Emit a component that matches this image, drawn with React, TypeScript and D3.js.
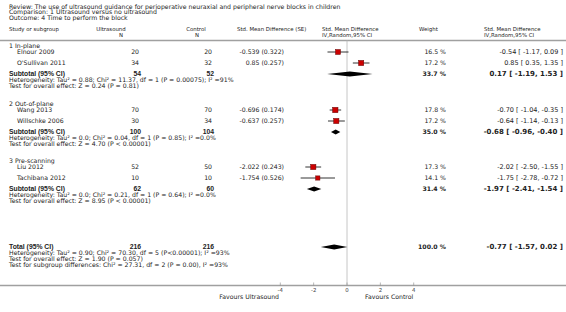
import React from "react";
import * as d3 from "d3";

// ---------- data ----------
const titleLines = [
  "Review:  The use of ultrasound guidance for perioperative neuraxial and peripheral nerve blocks in children",
  "Comparison:  1 Ultrasound versus no ultrasound",
  "Outcome:  4 Time to perform the block",
];

const groupNames = ["1 In-plane", "2 Out-of-plane", "3 Pre-scanning"];

const studyNames = ["Elnour 2009", "O'Sullivan 2011", "Wang 2013", "Willschke 2006", "Liu 2012", "Tachibana 2012"];
const studyGroup = [0, 0, 1, 1, 2, 2];
const studyUsN = [20, 34, 70, 30, 52, 10];
const studyCtN = [20, 32, 70, 34, 50, 10];
const studySMD = ["-0.539", "0.85", "-0.696", "-0.637", "-2.022", "-1.754"];
const studySE = ["0.322", "0.257", "0.174", "0.257", "0.243", "0.526"];
const studyWeight = [16.5, 17.2, 17.8, 17.2, 17.3, 14.1];
const studyEst = [-0.54, 0.85, -0.7, -0.64, -2.02, -1.75];
const studyLo = [-1.17, 0.35, -1.04, -1.14, -2.5, -2.78];
const studyHi = [0.09, 1.35, -0.35, -0.13, -1.55, -0.72];

const subUsN = [54, 100, 62];
const subCtN = [52, 104, 60];
const subWeight = [33.7, 35.0, 31.4];
const subEst = [0.17, -0.68, -1.97];
const subLo = [-1.19, -0.96, -2.41];
const subHi = [1.53, -0.4, -1.54];
const subHet = [
  "Heterogeneity: Tau\u00b2 = 0.88; Chi\u00b2 = 11.37, df = 1 (P = 0.00075); I\u00b2 =91%",
  "Heterogeneity: Tau\u00b2 = 0.0; Chi\u00b2 = 0.04, df = 1 (P = 0.85); I\u00b2 =0.0%",
  "Heterogeneity: Tau\u00b2 = 0.0; Chi\u00b2 = 0.21, df = 1 (P = 0.64); I\u00b2 =0.0%",
];
const subTest = [
  "Test for overall effect: Z = 0.24 (P = 0.81)",
  "Test for overall effect: Z = 4.70 (P < 0.00001)",
  "Test for overall effect: Z = 8.95 (P < 0.00001)",
];

const totalUsN = 216;
const totalCtN = 216;
const totalWeight = 100.0;
const totalEst = -0.77;
const totalLo = -1.57;
const totalHi = 0.02;
const totalNotes = [
  "Heterogeneity: Tau\u00b2 = 0.90; Chi\u00b2 = 70.30, df = 5 (P<0.00001); I\u00b2 =93%",
  "Test for overall effect: Z = 1.90 (P = 0.057)",
  "Test for subgroup differences: Chi\u00b2 = 27.31, df = 2 (P = 0.00), I\u00b2 =93%",
];

const axisTicks = [-4, -2, 0, 2, 4];
const favourLeft = "Favours Ultrasound";
const favourRight = "Favours Control";

// ---------- layout ----------
const W = 566;
const H = 312;
const FONT = "DejaVu Sans, Verdana, sans-serif";
const BFONT = "Liberation Sans, Arial, sans-serif";
const FS = 6.2;
const HFS = 5.4;
const BFS = 6.8;
const TXT = "#222";

const x = d3.scaleLinear().domain([-4, 4]).range([280.3, 413.7]);

const f2 = (v: number) => v.toFixed(2);
const ciText = (e: number, l: number, h: number) => `${f2(e)} [ ${f2(l)}, ${f2(h)} ]`;
const wText = (w: number) => `${w.toFixed(1)} %`;

// vertical positions
const headerY1 = 29;
const headerY2 = 35;
const headerLineY = 40.5;
const groupTop = [46, 104, 161];
const firstStep = 6;
const studyStep = 11;
const lineStep = 5.9;
const totalY = 247;
const axisY = 285.5;

type Row = { kind: string; y: number; idx: number };

function buildRows() {
  const rows: Row[] = [];
  groupNames.forEach((g, gi) => {
    let y = groupTop[gi];
    rows.push({ kind: "group", y, idx: gi });
    y += firstStep;
    const members = studyNames.map((_, i) => i).filter((i) => studyGroup[i] === gi);
    members.forEach((si, k) => {
      rows.push({ kind: "study", y: y + k * studyStep, idx: si });
    });
    y = y + members.length * studyStep;
    rows.push({ kind: "subtotal", y, idx: gi });
    rows.push({ kind: "het", y: y + lineStep, idx: gi });
    rows.push({ kind: "test", y: y + 2 * lineStep, idx: gi });
  });
  return rows;
}

const diamond = (e: number, l: number, h: number, y: number, hh = 2.6) =>
  `M${x(l)},${y} L${x(e)},${y - hh} L${x(h)},${y} L${x(e)},${y + hh} Z`;

export default function App() {
  const rows = buildRows();
  const txt = (
    s: string | number,
    xx: number,
    y: number,
    opts: { anchor?: string; bold?: boolean; size?: number; fill?: string; font?: string } = {}
  ) => (
    <text
      x={xx}
      y={y}
      dy="0.35em"
      textAnchor={(opts.anchor as any) || "start"}
      fontWeight={opts.bold ? "bold" : "normal"}
      fontSize={opts.size || FS}
      fontFamily={opts.font || FONT}
      fill={opts.fill || TXT}
    >
      {s}
    </text>
  );

  return (
    <svg
      width={W}
      height={H}
      style={{ position: "absolute", left: 0, top: 0, background: "#fff" }}
      fontFamily={FONT}
    >
      <rect x={0} y={0} width={W} height={H} fill="#fff" />
      {titleLines.map((t, i) => (
        <g key={"t" + i}>{txt(t, 9, 6.5 + i * 5.8)}</g>
      ))}
      {/* headers */}
      {txt("Study or subgroup", 9, headerY1, { size: HFS })}
      {txt("Ultrasound", 111, headerY1, { anchor: "middle", size: HFS })}
      {txt("N", 121, headerY2, { anchor: "middle", size: HFS })}
      {txt("Control", 196, headerY1, { anchor: "middle", size: HFS })}
      {txt("N", 197, headerY2, { anchor: "middle", size: HFS })}
      {txt("Std. Mean Difference (SE)", 237, headerY1, { size: HFS })}
      {txt("Std. Mean Difference", 322, headerY1, { size: HFS })}
      {txt("IV,Random,95% CI", 322, headerY2, { size: HFS })}
      {txt("Weight", 419, headerY1, { size: HFS })}
      {txt("Std. Mean Difference", 484, headerY1, { size: HFS })}
      {txt("IV,Random,95% CI", 484, headerY2, { size: HFS })}
      <line x1={0} x2={W} y1={headerLineY} y2={headerLineY} stroke="#a0a0a0" strokeWidth={1.6} />

      {/* zero line */}
      <line x1={x(0)} x2={x(0)} y1={headerLineY} y2={axisY} stroke="#b8b8b8" strokeWidth={0.8} />

      {rows.map((r, i) => {
        if (r.kind === "group") return <g key={i}>{txt(groupNames[r.idx], 9, r.y)}</g>;
        if (r.kind === "study") {
          const s = r.idx;
          const side = studyWeight[s] * 0.3;
          return (
            <g key={i}>
              {txt(studyNames[s], 17, r.y)}
              {txt(studyUsN[s], 139, r.y, { anchor: "end" })}
              {txt(studyCtN[s], 212, r.y, { anchor: "end" })}
              {txt(`${studySMD[s]} (${studySE[s]})`, 284, r.y, { anchor: "end" })}
              <line x1={x(studyLo[s])} x2={x(studyHi[s])} y1={r.y} y2={r.y} stroke="#000" strokeWidth={0.8} />
              <rect
                x={x(studyEst[s]) - side / 2}
                y={r.y - side / 2}
                width={side}
                height={side}
                fill="#cc0000"
                stroke="#660000"
                strokeWidth={0.5}
              />
              {txt(wText(studyWeight[s]), 446, r.y, { anchor: "end" })}
              {txt(ciText(studyEst[s], studyLo[s], studyHi[s]), 563, r.y, { anchor: "end", size: 6.5 })}
            </g>
          );
        }
        if (r.kind === "subtotal") {
          const g = r.idx;
          return (
            <g key={i}>
              {txt("Subtotal (95% CI)", 9, r.y, { bold: true, size: BFS, font: BFONT })}
              {txt(subUsN[g], 141, r.y, { anchor: "end", bold: true, size: BFS, font: BFONT })}
              {txt(subCtN[g], 214, r.y, { anchor: "end", bold: true, size: BFS, font: BFONT })}
              <path d={diamond(subEst[g], subLo[g], subHi[g], r.y)} fill="#000" />
              {txt(wText(subWeight[g]), 446, r.y, { anchor: "end", bold: true })}
              {txt(ciText(subEst[g], subLo[g], subHi[g]), 563, r.y, { anchor: "end", bold: true, size: 7 })}
            </g>
          );
        }
        if (r.kind === "het") return <g key={i}>{txt(subHet[r.idx], 9, r.y)}</g>;
        return <g key={i}>{txt(subTest[r.idx], 9, r.y)}</g>;
      })}

      {/* total */}
      {txt("Total (95% CI)", 9, totalY, { bold: true, size: BFS, font: BFONT })}
      {txt(totalUsN, 141, totalY, { anchor: "end", bold: true, size: BFS, font: BFONT })}
      {txt(totalCtN, 214, totalY, { anchor: "end", bold: true, size: BFS, font: BFONT })}
      <path d={diamond(totalEst, totalLo, totalHi, totalY)} fill="#000" />
      {txt(wText(totalWeight), 446, totalY, { anchor: "end", bold: true })}
      {txt(ciText(totalEst, totalLo, totalHi), 563, totalY, { anchor: "end", bold: true, size: 7 })}
      {totalNotes.map((t, i) => (
        <g key={"n" + i}>{txt(t, 9, totalY + lineStep * (i + 1))}</g>
      ))}

      {/* axis */}
      <line x1={0} x2={W} y1={axisY} y2={axisY} stroke="#a0a0a0" strokeWidth={1.6} />
      {axisTicks.map((t) => (
        <g key={"k" + t}>
          <line x1={x(t)} x2={x(t)} y1={axisY - 3} y2={axisY} stroke="#888" strokeWidth={0.6} />
          {txt(t, x(t), axisY + 4.5, { anchor: "middle", fill: "#444", size: HFS })}
        </g>
      ))}
      {txt(favourLeft, 279, axisY + 11, { anchor: "end" })}
      {txt(favourRight, 365, axisY + 11)}
    </svg>
  );
}
